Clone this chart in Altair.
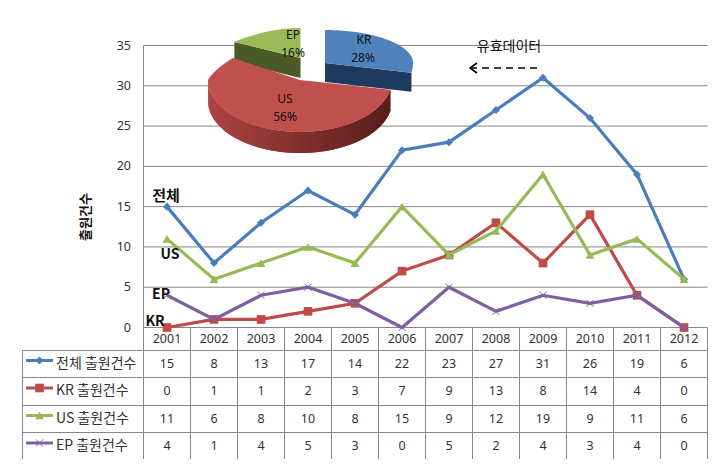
import math
import altair as alt
import pandas as pd

# ---- chart data ----
years = [2001, 2002, 2003, 2004, 2005, 2006, 2007, 2008, 2009, 2010, 2011, 2012]
total = [15, 8, 13, 17, 14, 22, 23, 27, 31, 26, 19, 6]
kr = [0, 1, 1, 2, 3, 7, 9, 13, 8, 14, 4, 0]
us = [11, 6, 8, 10, 8, 15, 9, 12, 19, 9, 11, 6]
ep = [4, 1, 4, 5, 3, 0, 5, 2, 4, 3, 4, 0]
series_names = ["전체 출원건수", "KR 출원건수", "US 출원건수", "EP 출원건수"]
y_ticks = [0, 5, 10, 15, 20, 25, 30, 35]
pie_labels = ["KR", "US", "EP"]
pie_shares = [28, 56, 16]

# ---- layout (image pixels) ----
F_KR = "Noto Sans CJK KR"
F_NUM = "Noto Sans"
W, H = 707, 451
LEFT, RIGHT = 143.5, 707.5
TAB_L = 22.5
COL = 47.0
ZERO_Y, UNIT = 327.5, 8.057
ROW_EDGES = [350.5, 377.5, 405.5, 432.5, 459.5]
ROW_MID = [363.5, 391, 418.5, 446]
HEAD_MID = 339
GRID = "#868686"
COLORS = ["#4a7ebb", "#be4b48", "#98b954", "#7d60a0"]

year_dom = [2001 + (8 - (LEFT + COL / 2)) / COL, 2001 + (8 + W - (LEFT + COL / 2)) / COL]
val_dom = [(ZERO_Y - (8 + H)) / UNIT, (ZERO_Y - 8) / UNIT]

X_YEAR = alt.X("year:Q", scale=alt.Scale(domain=year_dom, nice=False, zero=False), axis=None)
Y_VAL = alt.Y("value:Q", scale=alt.Scale(domain=val_dom, nice=False, zero=False), axis=None)
X_PX = alt.X("x:Q", scale=alt.Scale(domain=[8, 8 + W], nice=False, zero=False), axis=None)
Y_PX = alt.Y("y:Q", scale=alt.Scale(domain=[8 + H, 8], nice=False, zero=False), axis=None)

layers = []

def text_layer(rows, font=F_NUM, size=12.5, color="#333333", weight="normal", align="center", angle=0):
    kw = {}
    if angle:
        kw["angle"] = angle
    return alt.Chart(pd.DataFrame(rows)).mark_text(
        font=font, fontSize=size, color=color, fontWeight=weight, align=align, baseline="middle", **kw
    ).encode(x=X_PX, y=Y_PX, text="t:N")

# grid
grid_rows = [{"value": v, "x": LEFT, "x2": RIGHT} for v in y_ticks if v > 0]
layers.append(alt.Chart(pd.DataFrame(grid_rows)).mark_rule(color=GRID, strokeWidth=1).encode(
    x=X_PX, x2=alt.X2("x2:Q"), y=Y_VAL))

# table rules
h_rows = [{"x": TAB_L, "x2": RIGHT, "y": e} for e in ROW_EDGES] + [{"x": LEFT, "x2": RIGHT, "y": ZERO_Y}]
layers.append(alt.Chart(pd.DataFrame(h_rows)).mark_rule(color=GRID, strokeWidth=1).encode(
    x=X_PX, x2=alt.X2("x2:Q"), y=Y_PX))
v_rows = [{"x": TAB_L, "y": ROW_EDGES[0], "y2": ROW_EDGES[-1]},
          {"x": LEFT, "y": ZERO_Y - 35 * UNIT, "y2": ROW_EDGES[-1]}]
v_rows += [{"x": LEFT + COL * (i + 1), "y": ZERO_Y, "y2": ROW_EDGES[-1]} for i in range(12)]
layers.append(alt.Chart(pd.DataFrame(v_rows)).mark_rule(color=GRID, strokeWidth=1).encode(
    x=X_PX, y=Y_PX, y2=alt.Y2("y2:Q")))

# pie (pseudo-3D, geometry derived from the shares)
def rim(cx, cy, th, a, bf, bb, k):
    c = math.cos(th)
    s = math.sin(th)
    ax = a * (1 - k * max(c, 0))
    return [cx + ax * s, cy - (bb if c > 0 else bf) * c]

def mix(c1, c2, t):
    a = [int(c1[i:i + 2], 16) for i in (1, 3, 5)]
    b = [int(c2[i:i + 2], 16) for i in (1, 3, 5)]
    return "#%02x%02x%02x" % tuple(round(a[i] + (b[i] - a[i]) * t) for i in range(3))

features = []
def poly(pts, fill):
    features.append({"type": "Feature",
                     "geometry": {"type": "Polygon", "coordinates": [pts + [pts[0]]]},
                     "properties": {"fill": fill}})

cum = [0]
for s in pie_shares:
    cum.append(cum[-1] + s)
ang = [c / 100 * 2 * math.pi for c in cum]
N = 60

# white gap between exploded slices
poly([[300, 26], [326, 26], [326, 88], [300, 88]], "#ffffff")

# EP
ep_c = (300.5, 58); ep_depth = 20
ep_rim = [rim(*ep_c, ang[2] + (ang[3] - ang[2]) * i / N, 91, 52, 30, .26) for i in range(N + 1)]
poly([list(ep_c), ep_rim[0], [ep_rim[0][0], ep_rim[0][1] + ep_depth], [ep_c[0], ep_c[1] + ep_depth]], "#4b5a27")
poly([list(ep_c)] + ep_rim, "#9bbb59")

# KR
kr_c = (325, 63); kr_depth = 19
kr_rim = [rim(*kr_c, ang[0] + (ang[1] - ang[0]) * i / N, 88, 52, 33, 0) for i in range(N + 1)]
poly([list(kr_c), kr_rim[-1], [kr_rim[-1][0], kr_rim[-1][1] + kr_depth], [kr_c[0], kr_c[1] + kr_depth]], "#1f3a5f")
poly([list(kr_c)] + kr_rim, "#4f81bd")

# US
us_c = (300, 80); us_depth = 21
us_rim = [rim(*us_c, ang[1] + (ang[2] - ang[1]) * i / (N * 2), 92, 52, 41, .26) for i in range(N * 2 + 1)]
for i in range(N * 2 - 1, -1, -1):
    p, q = us_rim[i], us_rim[i + 1]
    if q[0] > p[0]:
        continue
    t = (p[0] - 208) / 184
    r = us_rim[max(i - 1, 0)]  # overlap with the neighbour so no seams show
    poly([r, q, [q[0], q[1] + us_depth], [r[0], r[1] + us_depth]], mix("#ad4441", "#571d1c", t))
poly([list(us_c)] + us_rim, "#c0504d")

layers.append(alt.Chart(alt.Data(values=features)).mark_geoshape(strokeWidth=0).encode(
    fill=alt.Fill("properties.fill:N", scale=None),
).project(type="identity", scale=1, translate=[-8, -8]))

# pie labels
layers.append(text_layer([
    {"x": 364, "y": 40, "t": pie_labels[0]}, {"x": 363, "y": 58, "t": f"{pie_shares[0]}%"},
    {"x": 285, "y": 99, "t": pie_labels[1]}, {"x": 285, "y": 117, "t": f"{pie_shares[1]}%"},
    {"x": 293, "y": 35, "t": pie_labels[2]}, {"x": 293, "y": 53, "t": f"{pie_shares[2]}%"},
], size=12, color="#111111"))

# annotation + arrow
layers.append(text_layer([{"x": 509, "y": 47, "t": "유효데이터"}], font=F_KR, size=14, color="#111111"))
layers.append(alt.Chart(pd.DataFrame([{"x": 537, "x2": 472, "y": 68}])).mark_rule(
    color="#000000", strokeWidth=1.6, strokeDash=[7, 5]).encode(x=X_PX, x2=alt.X2("x2:Q"), y=Y_PX))
layers.append(alt.Chart(pd.DataFrame([{"x": 477, "y": 63, "o": 0}, {"x": 470, "y": 68, "o": 1}, {"x": 477, "y": 73, "o": 2}]))
              .mark_line(color="#000000", strokeWidth=1.6).encode(x=X_PX, y=Y_PX, order="o:Q"))

# series lines and markers
SHAPES = ["diamond", "square", "triangle-up", "M-1,-1L1,1M-1,1L1,-1"]
SIZES = [65, 75, 80, 50]
all_series = [total, kr, us, ep]
for vals, col, sh, sz in zip(all_series, COLORS, SHAPES, SIZES):
    d = pd.DataFrame({"year": years, "value": vals})
    layers.append(alt.Chart(d).mark_line(color=col, strokeWidth=3.2).encode(x=X_YEAR, y=Y_VAL))
    filled = sh != SHAPES[3]
    layers.append(alt.Chart(d).mark_point(shape=sh, size=sz, filled=filled, color=col, opacity=1,
                                          strokeWidth=1 if not filled else 0).encode(x=X_YEAR, y=Y_VAL))

# series tags
layers.append(text_layer([{"x": 166, "y": 196, "t": "전체"}], font=F_KR, size=15, color="#111111", weight="bold"))
layers.append(text_layer([
    {"x": 170, "y": 255, "t": "US"}, {"x": 161, "y": 295, "t": "EP"}, {"x": 155, "y": 322, "t": "KR"},
], font=F_KR, size=14, color="#111111", weight="bold"))

# y tick labels + title
layers.append(text_layer([{"x": 131, "y": ZERO_Y - v * UNIT, "t": str(v)} for v in y_ticks],
                         align="right", size=12.5))
layers.append(text_layer([{"x": 86, "y": 217, "t": "출원건수"}], font=F_KR, size=13, color="#111111",
                         weight="bold", angle=270))

# table header + cells
layers.append(text_layer([{"x": LEFT + COL * (i + .5), "y": HEAD_MID, "t": str(y)} for i, y in enumerate(years)]))
cells = []
for r, vals in enumerate(all_series):
    for i, v in enumerate(vals):
        cells.append({"x": LEFT + COL * (i + .5), "y": ROW_MID[r], "t": str(v)})
layers.append(text_layer(cells))
layers.append(text_layer([{"x": 56, "y": ROW_MID[r], "t": n} for r, n in enumerate(series_names)],
                         font=F_KR, size=14, align="left"))

# legend keys in table
for r, (col, sh, sz) in enumerate(zip(COLORS, SHAPES, SIZES)):
    ky = ROW_MID[r] - 3
    layers.append(alt.Chart(pd.DataFrame([{"x": 26, "x2": 53, "y": ky}])).mark_rule(color=col, strokeWidth=3).encode(
        x=X_PX, x2=alt.X2("x2:Q"), y=Y_PX))
    filled = sh != SHAPES[3]
    layers.append(alt.Chart(pd.DataFrame([{"x": 39.5, "y": ky}])).mark_point(
        shape=sh, size=sz, filled=filled, color=col, opacity=1, strokeWidth=1 if not filled else 0
    ).encode(x=X_PX, y=Y_PX))

chart = alt.layer(*layers).resolve_scale(x="independent", y="independent").properties(
    width=W, height=H, padding=0, background="#ffffff", autosize=alt.AutoSizeParams(type="none")
).configure_view(stroke=None)

chart.save("out.html", embed_options={"renderer": "svg", "actions": False})
